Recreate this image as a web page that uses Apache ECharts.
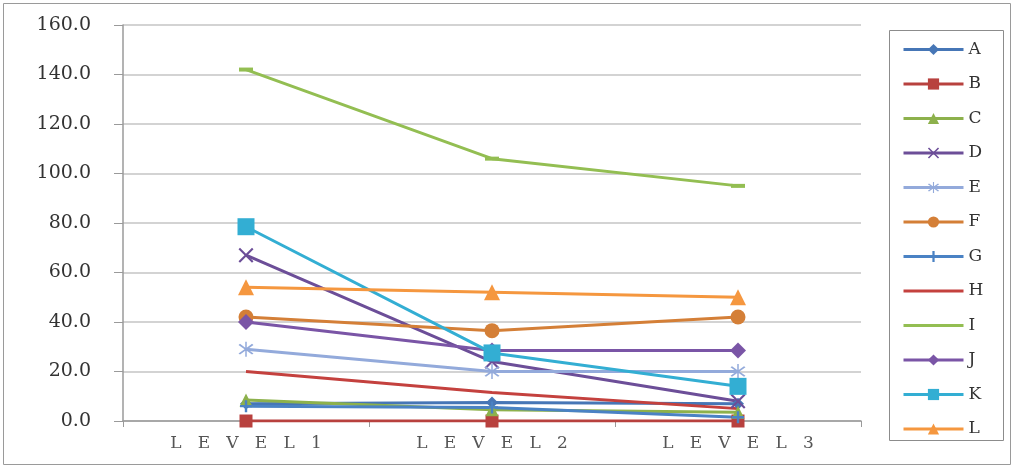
<!DOCTYPE html>
<html>
<head>
<meta charset="utf-8">
<script src="https://cdn.jsdelivr.net/npm/echarts@6/dist/echarts.min.js"></script>
<style>
  html, body { margin: 0; padding: 0; background: #fff; }
  #chart { width: 1014px; height: 470px; }
</style>
</head>
<body>
<div id="chart"></div>
<script>
// Categories on the x axis
const categories = ['LEVEL1', 'LEVEL2', 'LEVEL3'];

// Y axis range and step
const yMin = 0;
const yMax = 160;
const yStep = 20;

// Series names (legend order)
const seriesNames = ['A', 'B', 'C', 'D', 'E', 'F', 'G', 'H', 'I', 'J', 'K', 'L'];

// Values per series, one per level
const valuesA = [7.0, 7.5, 7.0];
const valuesB = [0.0, 0.0, 0.0];
const valuesC = [8.5, 4.5, 3.5];
const valuesD = [67.0, 24.0, 8.0];
const valuesE = [29.0, 20.0, 20.0];
const valuesF = [42.0, 36.5, 42.0];
const valuesG = [6.0, 5.5, 1.5];
const valuesH = [20.0, 11.5, 5.0];
const valuesI = [142.0, 106.0, 95.0];
const valuesJ = [40.0, 28.5, 28.5];
const valuesK = [78.5, 27.5, 14.0];
const valuesL = [54.0, 52.0, 50.0];

const seriesValues = [valuesA, valuesB, valuesC, valuesD, valuesE, valuesF,
                      valuesG, valuesH, valuesI, valuesJ, valuesK, valuesL];

// Marker shapes
const plusPath = 'path://M4,0H6V4H10V6H6V10H4V6H0V4H4Z';
const crossPath = 'path://M1,0L5,4L9,0L10,1L6,5L10,9L9,10L5,6L1,10L0,9L4,5L0,1Z';
const starPath = 'path://M1,0L5,4L9,0L10,1L6,5L10,9L9,10L5,6L1,10L0,9L4,5L0,1Z M4.5,-2H5.5V12H4.5Z';
// Plain stroke used as the legend icon of series without markers
const flatPath = 'path://M0,0H60V3H0Z';

const styles = [
  { color: '#4676B6', symbol: 'diamond',  size: 12 },
  { color: '#B8413E', symbol: 'rect',     size: 13 },
  { color: '#8DB14C', symbol: 'triangle', size: 13 },
  { color: '#6C4E98', symbol: crossPath,  size: 15 },
  { color: '#93AADB', symbol: starPath,   size: 15 },
  { color: '#D47F37', symbol: 'circle',   size: 15 },
  { color: '#4A82C4', symbol: plusPath,   size: 12 },
  { color: '#C4413E', symbol: 'none',     size: 0, legendIcon: flatPath },
  { color: '#93BE52', symbol: 'rect',     size: [14, 4], legendIcon: flatPath },
  { color: '#7A55A6', symbol: 'diamond',  size: 16 },
  { color: '#33AED3', symbol: 'rect',     size: 17 },
  { color: '#F5973F', symbol: 'triangle', size: 16 }
];

const serif = '"DejaVu Serif", "Liberation Serif", serif';

const series = seriesNames.map((name, i) => ({
  name: name,
  type: 'line',
  data: seriesValues[i],
  symbol: styles[i].symbol,
  symbolSize: styles[i].size,
  showSymbol: styles[i].symbol !== 'none',
  color: styles[i].color,
  lineStyle: { width: 3, color: styles[i].color },
  itemStyle: { color: styles[i].color },
  emphasis: { disabled: true },
  animation: false
}));

const legendData = seriesNames.map((name, i) =>
  styles[i].legendIcon ? { name: name, icon: styles[i].legendIcon } : { name: name }
);

const chart = echarts.init(document.getElementById('chart'), null, { renderer: 'canvas' });

chart.setOption({
  backgroundColor: '#ffffff',
  animation: false,
  graphic: [
    {
      type: 'rect',
      shape: { x: 3.5, y: 3.5, width: 1007, height: 461 },
      style: { fill: 'none', stroke: '#9a9a9a', lineWidth: 1 },
      silent: true
    },
    {
      type: 'rect',
      shape: { x: 889.5, y: 30.5, width: 114, height: 410 },
      style: { fill: 'none', stroke: '#8c8c8c', lineWidth: 1 },
      silent: true
    }
  ],
  grid: { left: 123, right: 153, top: 25, bottom: 49, containLabel: false },
  legend: {
    orient: 'vertical',
    left: 897,
    top: 36,
    itemWidth: 60,
    itemHeight: 14,
    itemGap: 17.5,
    data: legendData,
    lineStyle: { width: 3 },
    textStyle: { fontFamily: serif, fontSize: 17, color: '#333' }
  },
  xAxis: {
    type: 'category',
    data: categories,
    boundaryGap: true,
    axisLine: { lineStyle: { color: '#9a9a9a', width: 1.5 } },
    axisTick: { show: true, inside: false, length: 6, lineStyle: { color: '#9a9a9a' } },
    axisLabel: {
      margin: 14,
      fontFamily: serif,
      fontSize: 17,
      color: '#555',
      formatter: v => v.split('').join('   ')
    },
    splitLine: { show: false }
  },
  yAxis: {
    type: 'value',
    min: yMin,
    max: yMax,
    interval: yStep,
    axisLine: { show: true, lineStyle: { color: '#9a9a9a', width: 1.5 } },
    axisTick: { show: true, inside: false, length: 9, lineStyle: { color: '#9a9a9a' } },
    axisLabel: {
      margin: 32,
      fontFamily: serif,
      fontSize: 19,
      color: '#333',
      formatter: v => v.toFixed(1)
    },
    splitLine: { show: true, lineStyle: { color: '#c4c4c4', width: 1.5 } }
  },
  series: series
});
</script>
</body>
</html>
